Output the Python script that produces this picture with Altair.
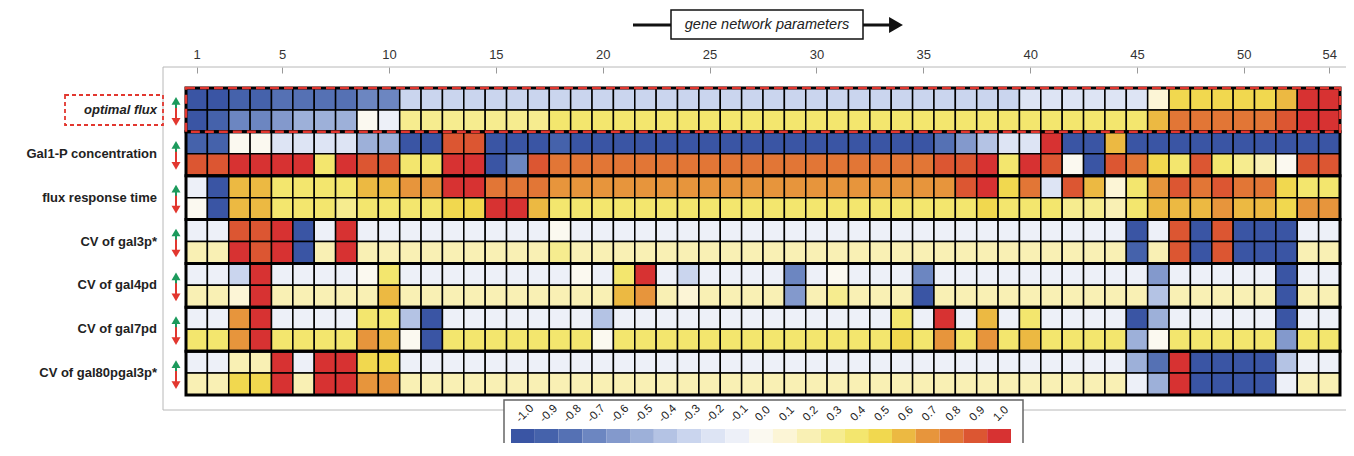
import altair as alt
import pandas as pd

# ---------------- data ----------------
params = list(range(1, 55))
axis_ticks = [1, 5, 10, 15, 20, 25, 30, 35, 40, 45, 50, 54]
groups = ["optimal flux", "Gal1-P concentration", "flux response time",
          "CV of gal3p*", "CV of gal4pd", "CV of gal7pd", "CV of gal80pgal3p*"]

optimal_flux_up = [-1.0, -1.0, -0.9, -0.9, -0.8, -0.8, -0.8, -0.8, -0.7, -0.7,
                   -0.3, -0.3, -0.3, -0.3, -0.3, -0.3, -0.3, -0.3, -0.3, -0.3,
                   -0.3, -0.3, -0.3, -0.3, -0.3, -0.3, -0.3, -0.3, -0.3, -0.3,
                   -0.3, -0.3, -0.3, -0.3, -0.3, -0.3, -0.3, -0.3, -0.3, -0.2,
                   -0.2, -0.2, -0.2, -0.2, -0.2, 0.1, 0.5, 0.5, 0.5, 0.5,
                   0.5, 0.6, 1.0, 1.0]
optimal_flux_down = [-1.0, -0.9, -0.7, -0.7, -0.6, -0.5, -0.5, -0.5, 0.0, -0.1,
                     0.3, 0.3, 0.3, 0.3, 0.3, 0.3, 0.3, 0.4, 0.4, 0.4,
                     0.4, 0.4, 0.4, 0.4, 0.4, 0.4, 0.4, 0.4, 0.4, 0.4,
                     0.4, 0.4, 0.4, 0.4, 0.4, 0.4, 0.4, 0.4, 0.4, 0.4,
                     0.4, 0.4, 0.4, 0.4, 0.4, 0.6, 0.8, 0.8, 0.8, 0.8,
                     0.8, 0.9, 1.0, 1.0]
gal1p_up = [-0.9, -0.9, 0.0, 0.0, -0.2, -0.2, -0.2, -0.2, -0.5, -0.5,
            -1.0, -1.0, 0.9, 0.9, -1.0, -1.0, -1.0, -0.9, -1.0, -1.0,
            -1.0, -1.0, -1.0, -1.0, -1.0, -1.0, -1.0, -1.0, -1.0, -1.0,
            -1.0, -1.0, -1.0, -1.0, -1.0, -0.8, -0.6, -0.4, -0.2, -0.2,
            1.0, -1.0, -1.0, 0.6, -1.0, -1.0, -1.0, -1.0, -1.0, -1.0,
            -1.0, -1.0, -1.0, -1.0]
gal1p_down = [0.9, 0.9, 1.0, 1.0, 1.0, 1.0, 0.4, 1.0, 0.9, 0.9,
              0.4, 0.4, 1.0, 1.0, -1.0, -0.7, 0.9, 0.8, 0.8, 0.8,
              0.8, 0.8, 0.8, 0.8, 0.8, 0.8, 0.8, 0.8, 0.8, 0.8,
              0.8, 0.8, 0.8, 0.8, 0.8, 0.9, 0.9, 1.0, 0.4, 1.0,
              0.9, 0.0, -1.0, 0.9, 0.8, 0.5, 0.4, 0.9, 0.4, 0.3,
              0.2, 0.0, 0.9, 0.9]
frt_up = [-0.1, -1.0, 0.6, 0.6, 0.4, 0.4, 0.4, 0.4, 0.6, 0.6,
          0.7, 0.7, 1.0, 1.0, 0.8, 0.8, 0.8, 0.7, 0.7, 0.7,
          0.7, 0.7, 0.7, 0.7, 0.7, 0.7, 0.7, 0.7, 0.7, 0.7,
          0.7, 0.7, 0.7, 0.7, 0.7, 0.7, 0.9, 1.0, 0.5, 0.8,
          -0.2, 0.9, 0.6, 0.1, 0.4, 0.7, 0.9, 0.8, 0.9, 0.8,
          0.8, 0.5, 0.4, 0.4]
frt_down = [0.0, -1.0, 0.6, 0.6, 0.4, 0.4, 0.4, 0.3, 0.4, 0.4,
            0.4, 0.4, 0.5, 0.5, 1.0, 1.0, 0.6, 0.4, 0.4, 0.4,
            0.4, 0.4, 0.4, 0.4, 0.4, 0.4, 0.4, 0.4, 0.4, 0.4,
            0.4, 0.4, 0.4, 0.4, 0.4, 0.4, 0.4, 0.5, 0.4, 0.4,
            0.4, 0.3, 0.3, 0.2, 0.4, 0.6, 0.6, 0.6, 0.7, 0.6,
            0.6, 0.5, 0.7, 0.7]
gal3p_up = [-0.1, -0.1, 0.9, 0.9, 1.0, -1.0, -0.1, 1.0, -0.1, -0.1,
            -0.1, -0.1, -0.1, -0.1, -0.1, -0.1, -0.1, 0.0, -0.1, -0.1,
            -0.1, -0.1, -0.1, -0.1, -0.1, -0.1, -0.1, -0.1, -0.1, -0.1,
            -0.1, -0.1, -0.1, -0.1, -0.1, -0.1, -0.1, -0.1, -0.1, -0.1,
            -0.1, -0.1, -0.1, -0.1, -1.0, -0.1, 0.9, -1.0, 0.9, -1.0,
            -1.0, -1.0, -0.1, -0.1]
gal3p_down = [0.2, 0.2, 1.0, 0.9, 1.0, -1.0, 0.2, 1.0, 0.2, 0.2,
              0.2, 0.2, 0.2, 0.2, 0.2, 0.2, 0.2, 0.3, 0.2, 0.2,
              0.2, 0.2, 0.2, 0.2, 0.2, 0.2, 0.2, 0.2, 0.2, 0.2,
              0.2, 0.2, 0.2, 0.2, 0.2, 0.2, 0.2, 0.2, 0.2, 0.2,
              0.2, 0.2, 0.2, 0.2, -0.9, 0.2, 0.9, -1.0, 0.9, -1.0,
              -1.0, -1.0, 0.2, 0.2]
gal4pd_up = [-0.1, -0.1, -0.3, 1.0, -0.1, -0.1, -0.1, -0.1, 0.0, 0.4,
             -0.1, -0.1, -0.1, -0.1, -0.1, -0.1, -0.1, -0.1, 0.0, -0.1,
             0.4, 1.0, -0.1, -0.3, -0.1, -0.1, -0.1, -0.1, -0.7, -0.1,
             0.0, -0.1, -0.1, -0.1, -0.7, -0.1, -0.1, -0.1, -0.1, -0.1,
             -0.1, -0.1, -0.1, -0.1, -0.1, -0.6, -0.1, -0.1, -0.1, -0.1,
             -0.1, -1.0, -0.1, -0.1]
gal4pd_down = [0.2, 0.2, 0.1, 1.0, 0.2, 0.2, 0.2, 0.2, 0.2, 0.6,
               0.2, 0.2, 0.2, 0.2, 0.2, 0.2, 0.2, 0.2, 0.2, 0.2,
               0.6, 0.7, 0.2, 0.1, 0.2, 0.2, 0.2, 0.2, -0.6, 0.2,
               0.3, 0.2, 0.2, 0.2, -1.0, 0.2, 0.2, 0.2, 0.2, 0.2,
               0.2, 0.2, 0.2, 0.2, 0.2, -0.4, 0.2, 0.2, 0.2, 0.2,
               0.2, -1.0, 0.2, 0.2]
gal7pd_up = [-0.1, -0.1, 0.7, 1.0, -0.1, -0.1, -0.1, -0.1, 0.4, 0.4,
             -0.4, -1.0, -0.1, -0.1, -0.1, -0.1, -0.1, -0.1, -0.1, -0.4,
             -0.1, -0.1, -0.1, -0.1, -0.1, -0.1, -0.1, -0.1, -0.1, -0.1,
             -0.1, -0.1, -0.1, 0.4, -0.1, 1.0, -0.1, 0.6, -0.1, 0.4,
             -0.1, -0.1, -0.1, -0.1, -1.0, -0.5, -0.1, -0.1, -0.1, -0.1,
             -0.1, -1.0, -0.1, -0.1]
gal7pd_down = [0.4, 0.4, 0.7, 1.0, 0.4, 0.4, 0.4, 0.4, 0.7, 0.6,
               0.0, -1.0, 0.4, 0.4, 0.4, 0.4, 0.4, 0.4, 0.4, 0.0,
               0.4, 0.4, 0.4, 0.4, 0.4, 0.4, 0.4, 0.4, 0.4, 0.4,
               0.4, 0.4, 0.4, 0.5, 0.4, 0.7, 0.4, 0.7, 0.4, 0.6,
               0.4, 0.4, 0.4, 0.4, -0.5, 0.0, 0.4, 0.4, 0.4, 0.4,
               0.4, -0.6, 0.4, 0.4]
gal80_up = [-0.1, -0.1, 0.2, 0.2, 1.0, -0.1, 1.0, 1.0, 0.5, 0.5,
            -0.1, -0.1, -0.1, -0.1, -0.1, -0.1, -0.1, -0.1, -0.1, -0.1,
            -0.1, -0.1, -0.1, -0.1, -0.1, -0.1, -0.1, -0.1, -0.1, -0.1,
            -0.1, -0.1, -0.1, -0.1, -0.1, -0.1, -0.1, -0.1, -0.1, -0.1,
            -0.1, -0.1, -0.1, -0.1, -0.5, -0.8, 1.0, -1.0, -1.0, -1.0,
            -1.0, -0.4, -0.1, -0.1]
gal80_down = [0.2, 0.2, 0.5, 0.5, 1.0, 0.2, 1.0, 1.0, 0.7, 0.7,
              0.2, 0.2, 0.2, 0.2, 0.2, 0.2, 0.2, 0.2, 0.2, 0.2,
              0.2, 0.2, 0.2, 0.2, 0.2, 0.2, 0.2, 0.2, 0.2, 0.2,
              0.2, 0.2, 0.2, 0.2, 0.2, 0.2, 0.2, 0.2, 0.2, 0.2,
              0.2, 0.2, 0.2, 0.2, -0.1, -0.5, 1.0, -1.0, -1.0, -1.0,
              -1.0, -0.1, 0.2, 0.2]

rows = [optimal_flux_up, optimal_flux_down, gal1p_up, gal1p_down,
        frt_up, frt_down, gal3p_up, gal3p_down, gal4pd_up, gal4pd_down,
        gal7pd_up, gal7pd_down, gal80_up, gal80_down]

legend_values = [-1.0, -0.9, -0.8, -0.7, -0.6, -0.5, -0.4, -0.3, -0.2, -0.1, 0.0,
                 0.1, 0.2, 0.3, 0.4, 0.5, 0.6, 0.7, 0.8, 0.9, 1.0]
legend_labels = ["-1.0", "-0.9", "-0.8", "-0.7", "-0.6", "-0.5", "-0.4", "-0.3", "-0.2", "-0.1",
                 "0.0", "0.1", "0.2", "0.3", "0.4", "0.5", "0.6", "0.7", "0.8", "0.9", "1.0"]
palette = ["#3a55a4", "#4562ab", "#5571b4", "#6c86c1", "#8399cc", "#9db0d9", "#b4c3e4",
           "#cad5ee", "#dde4f4", "#edf0f8", "#fbf9f0", "#fcf5d6", "#f9f0b4", "#f6ec8f",
           "#f3e66e", "#f1d84f", "#ecb942", "#e7953c", "#e27636", "#dc5632", "#d73232"]

for r in rows:
    assert len(r) == len(params)

# ---------------- tables ----------------
cells = pd.DataFrame([
    {"x0": c - 0.5, "x1": c + 0.5, "y0": ri - 0.5, "y1": ri + 0.5, "v": v}
    for ri, vals in enumerate(rows, start=1)
    for c, v in zip(params, vals)
])
group_df = pd.DataFrame([
    {"label": g, "x0": 0.5, "x1": len(params) + 0.5,
     "y0": 2 * k + 0.5, "y1": 2 * k + 2.5, "yc": 2 * k + 1.5}
    for k, g in enumerate(groups)
])
legend_df = pd.DataFrame([
    {"l0": i, "l1": i + 1, "lc": i + 0.5, "v": v, "label": lab}
    for i, (v, lab) in enumerate(zip(legend_values, legend_labels))
])
one = pd.DataFrame({"k": [0]})

thresholds = [round((a + b) / 2, 3) for a, b in zip(legend_values[:-1], legend_values[1:])]
cscale = alt.Scale(type="threshold", domain=thresholds, range=palette)

FONT = "Liberation Sans"
xscale = alt.Scale(domain=[0.5, len(params) + 0.5], nice=False, zero=False)
yscale = alt.Scale(domain=[0.5, len(rows) + 0.5], nice=False, zero=False, reverse=True)
xaxis = alt.Axis(orient="top", values=axis_ticks, format="d", offset=15, tickSize=6,
                 labelPadding=6, domain=False, grid=False, title=None, labelAngle=0,
                 labelFont=FONT, labelFontSize=13, labelColor="#333", tickColor="#999")
xenc = alt.X("x0:Q", scale=xscale, axis=xaxis)
yenc = alt.Y("y0:Q", scale=yscale, axis=None)
ycenc = alt.Y("yc:Q", scale=yscale, axis=None)

GREEN = "#1c9a5c"
RED = "#e2372f"

frame = alt.Chart(one).mark_rect(filled=False, stroke="#b8b8b8", strokeWidth=1).encode(
    x=alt.value(-23), x2=alt.value(1200), y=alt.value(-21), y2=alt.value(322))

heat = alt.Chart(cells).mark_rect(stroke="black", strokeWidth=1.5).encode(
    x=xenc, x2="x1:Q", y=yenc, y2="y1:Q",
    color=alt.Color("v:Q", scale=cscale, legend=None))

group_box = alt.Chart(group_df).mark_rect(filled=False, stroke="black", strokeWidth=3).encode(
    x=xenc, x2="x1:Q", y=yenc, y2="y1:Q")

opt_box = alt.Chart(group_df.iloc[[0]]).mark_rect(
    filled=False, stroke=RED, strokeWidth=2.5, strokeDash=[9, 5]).encode(
    x=xenc, x2="x1:Q", y=yenc, y2="y1:Q")

labels_main = alt.Chart(group_df.iloc[1:]).mark_text(
    align="right", baseline="middle", font=FONT, fontSize=13, fontWeight="bold",
    color="#222").encode(x=alt.value(-29), y=ycenc, text="label:N")
label_opt = alt.Chart(group_df.iloc[[0]]).mark_text(
    align="right", baseline="middle", font=FONT, fontSize=13, fontWeight="bold",
    fontStyle="italic", color="#222").encode(x=alt.value(-29), y=ycenc, text="label:N")
label_opt_box = alt.Chart(one).mark_rect(
    filled=False, stroke=RED, strokeWidth=1.8, strokeDash=[4, 3]).encode(
    x=alt.value(-121), x2=alt.value(-23), y=alt.value(7), y2=alt.value(37))

up_shaft = alt.Chart(group_df).mark_rule(color=GREEN, strokeWidth=2, yOffset=-7, y2Offset=2).encode(
    x=alt.value(-10), y=ycenc, y2="yc:Q")
up_head = alt.Chart(group_df).mark_point(shape="triangle-up", size=80, filled=True, opacity=1,
                                         color=GREEN, yOffset=-9).encode(x=alt.value(-10), y=ycenc)
dn_shaft = alt.Chart(group_df).mark_rule(color=RED, strokeWidth=2, yOffset=-2, y2Offset=9).encode(
    x=alt.value(-10), y=ycenc, y2="yc:Q")
dn_head = alt.Chart(group_df).mark_point(shape="triangle-down", size=80, filled=True, opacity=1,
                                         color=RED, yOffset=12).encode(x=alt.value(-10), y=ycenc)

title_line = alt.Chart(one).mark_rule(color="#111", strokeWidth=3).encode(
    x=alt.value(447), x2=alt.value(704), y=alt.value(-63))
title_head = alt.Chart(one).mark_point(shape="triangle-right", size=256, filled=True, opacity=1,
                                       color="#111").encode(x=alt.value(710), y=alt.value(-63))
title_box = alt.Chart(one).mark_rect(fill="white", stroke="#111", strokeWidth=1.5).encode(
    x=alt.value(485), x2=alt.value(677), y=alt.value(-78), y2=alt.value(-49))
title_text = alt.Chart(one).mark_text(
    text="gene network parameters", font=FONT, fontSize=14.5, fontStyle="italic",
    color="#222", align="center", baseline="middle").encode(x=alt.value(581), y=alt.value(-63))

main = alt.layer(frame, heat, group_box, opt_box, labels_main, label_opt, label_opt_box,
                 up_shaft, dn_shaft, up_head, dn_head,
                 title_line, title_head, title_box, title_text)

lscale = alt.Scale(domain=[0, len(legend_values)], range=[325, 825], nice=False, zero=False)
leg_box = alt.Chart(one).mark_rect(fill="white", stroke="#666", strokeWidth=1.5).encode(
    x=alt.value(318), x2=alt.value(837), y=alt.value(312), y2=alt.value(420))
leg_bar = alt.Chart(legend_df).mark_rect().encode(
    x=alt.X("l0:Q", scale=lscale, axis=None), x2="l1:Q",
    y=alt.value(341), y2=alt.value(365),
    color=alt.Color("v:Q", scale=cscale, legend=None))
leg_text = alt.Chart(legend_df).mark_text(
    angle=315, font=FONT, fontSize=11.5, color="#222", align="center", baseline="middle", dx=3).encode(
    x=alt.X("lc:Q", scale=lscale, axis=None), y=alt.value(328), text="label:N")
legend = alt.layer(leg_box, leg_bar, leg_text)

chart = alt.layer(main, legend).resolve_scale(x="independent").properties(
    width=1154, height=307,
    padding={"left": 178, "top": 80, "right": 6, "bottom": 48},
    autosize=alt.AutoSizeParams(type="none"),
).configure_view(strokeWidth=0)

chart.save("out.html", embed_options={"renderer": "svg", "actions": False})
